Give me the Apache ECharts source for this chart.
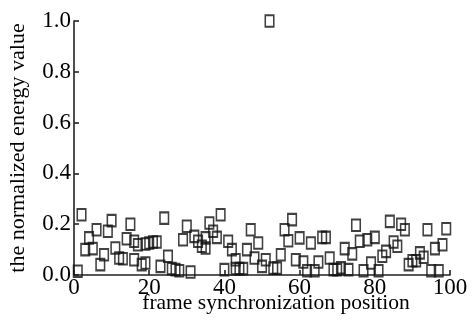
<!DOCTYPE html>
<html>
<head>
<meta charset="utf-8">
<script src="https://cdn.jsdelivr.net/npm/echarts@6/dist/echarts.min.js"></script>
<style>
  html, body { margin: 0; padding: 0; background: #fff; }
  #chart { width: 472px; height: 323px; }
</style>
</head>
<body>
<div id="chart"></div>
<script>
// frame synchronization positions and their normalized energy values
const positions = [
  1, 2, 3, 4, 5, 6, 7, 8, 9, 10,
  11, 12, 13, 14, 15, 16, 16, 17, 18, 19,
  19, 20, 21, 22, 23, 24, 25, 26, 27, 28,
  29, 30, 31, 32, 33, 34, 35, 35, 36, 37,
  38, 39, 40, 41, 42, 43, 43, 44, 45, 46,
  47, 48, 49, 50, 51, 52, 53, 54, 55, 56,
  57, 58, 59, 60, 61, 62, 63, 64, 65, 66,
  67, 68, 69, 70, 71, 72, 73, 74, 75, 76,
  77, 78, 79, 80, 81, 82, 83, 84, 85, 86,
  87, 88, 89, 90, 91, 92, 93, 94, 95, 96,
  97, 98, 99
];
const energies = [
  0.015, 0.237, 0.100, 0.146, 0.104, 0.178, 0.041, 0.080, 0.172, 0.214,
  0.106, 0.067, 0.064, 0.143, 0.200, 0.133, 0.060, 0.119, 0.041, 0.047,
  0.122, 0.126, 0.130, 0.130, 0.034, 0.224, 0.074, 0.025, 0.021, 0.017,
  0.139, 0.192, 0.012, 0.152, 0.133, 0.113, 0.146, 0.106, 0.205, 0.172,
  0.148, 0.237, 0.021, 0.133, 0.100, 0.060, 0.025, 0.025, 0.025, 0.100,
  0.178, 0.067, 0.126, 0.034, 0.060, 1.000, 0.027, 0.027, 0.080, 0.178,
  0.135, 0.218, 0.060, 0.146, 0.051, 0.017, 0.126, 0.017, 0.051, 0.148,
  0.148, 0.067, 0.021, 0.021, 0.028, 0.104, 0.021, 0.083, 0.196, 0.133,
  0.017, 0.139, 0.047, 0.148, 0.017, 0.074, 0.093, 0.211, 0.130, 0.113,
  0.200, 0.178, 0.041, 0.056, 0.056, 0.087, 0.070, 0.178, 0.017, 0.104,
  0.017, 0.119, 0.182
];
const xTicks = { min: 0, max: 100, step: 20 };
const yTicks = { min: 0, max: 1, step: 0.2 };

const points = positions.map((p, i) => [p, energies[i]]);

const font = 'Liberation Serif';
const axisColor = '#222';

const chart = echarts.init(document.getElementById('chart'), null, { renderer: 'canvas' });
chart.setOption({
  animation: false,
  backgroundColor: '#fff',
  grid: {
    left: 74, right: 22, top: 21, bottom: 48,
    containLabel: false,
    outerBoundsMode: 'none'
  },
  xAxis: {
    type: 'value',
    min: xTicks.min, max: xTicks.max, interval: xTicks.step,
    name: 'frame synchronization position',
    nameLocation: 'middle',
    nameGap: 17,
    nameMoveOverlap: false,
    nameTextStyle: { fontFamily: font, fontSize: 21.5, color: '#000', padding: [0, 0, 0, 28] },
    axisLine: { lineStyle: { color: axisColor, width: 1.6 } },
    axisTick: { inside: true, length: 5, lineStyle: { color: axisColor, width: 1.6 } },
    axisLabel: { fontFamily: font, fontSize: 23, color: '#000', margin: 1, hideOverlap: false },
    splitLine: { show: false }
  },
  yAxis: {
    type: 'value',
    min: yTicks.min, max: yTicks.max, interval: yTicks.step,
    name: 'the normalized energy value',
    nameLocation: 'middle',
    nameGap: 45,
    nameMoveOverlap: false,
    nameTextStyle: { fontFamily: font, fontSize: 22, color: '#000' },
    axisLine: { lineStyle: { color: axisColor, width: 1.6 } },
    axisTick: { inside: true, length: 5, lineStyle: { color: axisColor, width: 1.6 } },
    axisLabel: {
      fontFamily: font, fontSize: 23, color: '#000', margin: 3,
      formatter: v => v.toFixed(1)
    },
    splitLine: { show: false }
  },
  series: [{
    type: 'scatter',
    data: points,
    symbol: 'rect',
    symbolSize: [8.5, 11.5],
    itemStyle: { color: 'rgba(0,0,0,0)', borderColor: '#111', borderWidth: 1.8 },
    emphasis: { disabled: true }
  }]
});
</script>
</body>
</html>
